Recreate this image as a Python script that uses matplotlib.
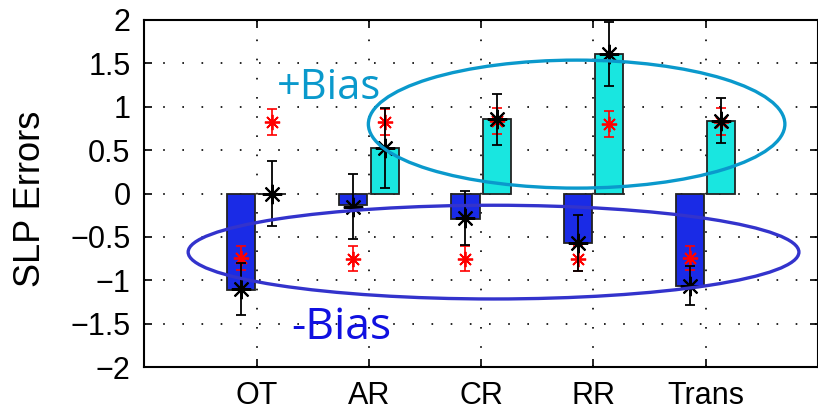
import numpy as np
import matplotlib.pyplot as plt
from matplotlib.patches import Ellipse

plt.rcParams['font.family'] = ['Liberation Sans', 'DejaVu Sans']

regions = ['OT', 'AR', 'CR', 'RR', 'Trans']

# bar heights: negative-bias and positive-bias members
neg_bias = [-1.11, -0.13, -0.29, -0.57, -1.07]
pos_bias = [0.0, 0.52, 0.855, 1.61, 0.84]

# model means with spread (black stars)
neg_mean = [-1.10, -0.15, -0.28, -0.57, -1.06]
neg_err = [0.30, 0.37, 0.31, 0.32, 0.23]
pos_mean = [0.0, 0.52, 0.855, 1.61, 0.84]
pos_err = [0.37, 0.46, 0.29, 0.37, 0.26]

# observed values (red stars)
obs_neg = [-0.74, -0.75, -0.75, -0.75, -0.74]
obs_neg_err = [0.14, 0.14, 0.14, 0.14, 0.14]
obs_pos = [0.82, 0.82, 0.84, 0.80, 0.83]
obs_pos_err = [0.15, 0.15, 0.15, 0.15, 0.15]

x = np.arange(1, len(regions) + 1)
off = 0.14
w = 0.25

fig = plt.figure(figsize=(8.18, 4.12), dpi=100)
ax = fig.add_axes([0.1765, 0.109, 0.8235, 0.8425])

ax.bar(x - off, neg_bias, w, color='#1a2be6', edgecolor='#222222', linewidth=1.3, zorder=2)
ax.bar(x + off, pos_bias, w, color='#19e6e0', edgecolor='#222222', linewidth=1.3, zorder=2)

star = (8, 2, 0)
ax.errorbar(x - off, obs_neg, yerr=obs_neg_err, fmt='none', ecolor='red',
            elinewidth=1.2, capsize=3.5, capthick=1.2, zorder=3)
ax.errorbar(x + off, obs_pos, yerr=obs_pos_err, fmt='none', ecolor='red',
            elinewidth=1.2, capsize=3.5, capthick=1.2, zorder=3)
ax.plot(x - off, obs_neg, ls='none', marker=star, ms=11, mec='red', mew=1.3, zorder=3)
ax.plot(x + off, obs_pos, ls='none', marker=star, ms=11, mec='red', mew=1.3, zorder=3)

ax.errorbar(x - off, neg_mean, yerr=neg_err, fmt='none', ecolor='black',
            elinewidth=1.3, capsize=3.5, capthick=1.3, zorder=4)
ax.errorbar(x + off, pos_mean, yerr=pos_err, fmt='none', ecolor='black',
            elinewidth=1.3, capsize=3.5, capthick=1.3, zorder=4)
ax.plot(x - off, neg_mean, ls='none', marker=star, ms=14, mec='black', mew=1.5, zorder=4)
ax.plot(x + off, pos_mean, ls='none', marker=star, ms=14, mec='black', mew=1.5, zorder=4)

ax.add_patch(Ellipse((3.85, 0.80), 3.71, 1.475, fill=False, ec='#0a99cc', lw=2.4,
                     zorder=5, clip_on=False))
ax.add_patch(Ellipse((3.11, -0.675), 5.44, 1.08, fill=False, ec='#3333cc', lw=2.4,
                     zorder=5, clip_on=False))

ax.text(1.18, 1.22, '+Bias', color='#0a99cc', fontsize=30, family=['Open Sans', 'DejaVu Sans'],
        va='center', ha='left', zorder=6)
ax.text(1.31, -1.55, '-Bias', color='#1010e0', fontsize=32, family=['Open Sans', 'DejaVu Sans'],
        va='center', ha='left', zorder=6)

ax.set_xlim(0, 6)
ax.set_ylim(-2, 2)
ax.set_xticks(x)
ax.set_xticklabels(regions)
ax.set_yticks(np.arange(-2, 2.01, 0.5))
ax.set_yticklabels(['\u22122', '\u22121.5', '\u22121', '\u22120.5', '0', '0.5', '1', '1.5', '2'])
ax.tick_params(direction='in', top=True, right=True, labelsize=22, length=6, width=1.2, pad=10)
ax.grid(True, ls=(0, (1, 10.5)), color='black', lw=1.2, zorder=0)
ax.set_axisbelow(True)
for s in ax.spines.values():
    s.set_linewidth(1.5)
ax.set_ylabel('SLP Errors', fontsize=26, labelpad=16)
ax.yaxis.label.set_y(0.484)

fig.savefig('out.png', dpi=100)
